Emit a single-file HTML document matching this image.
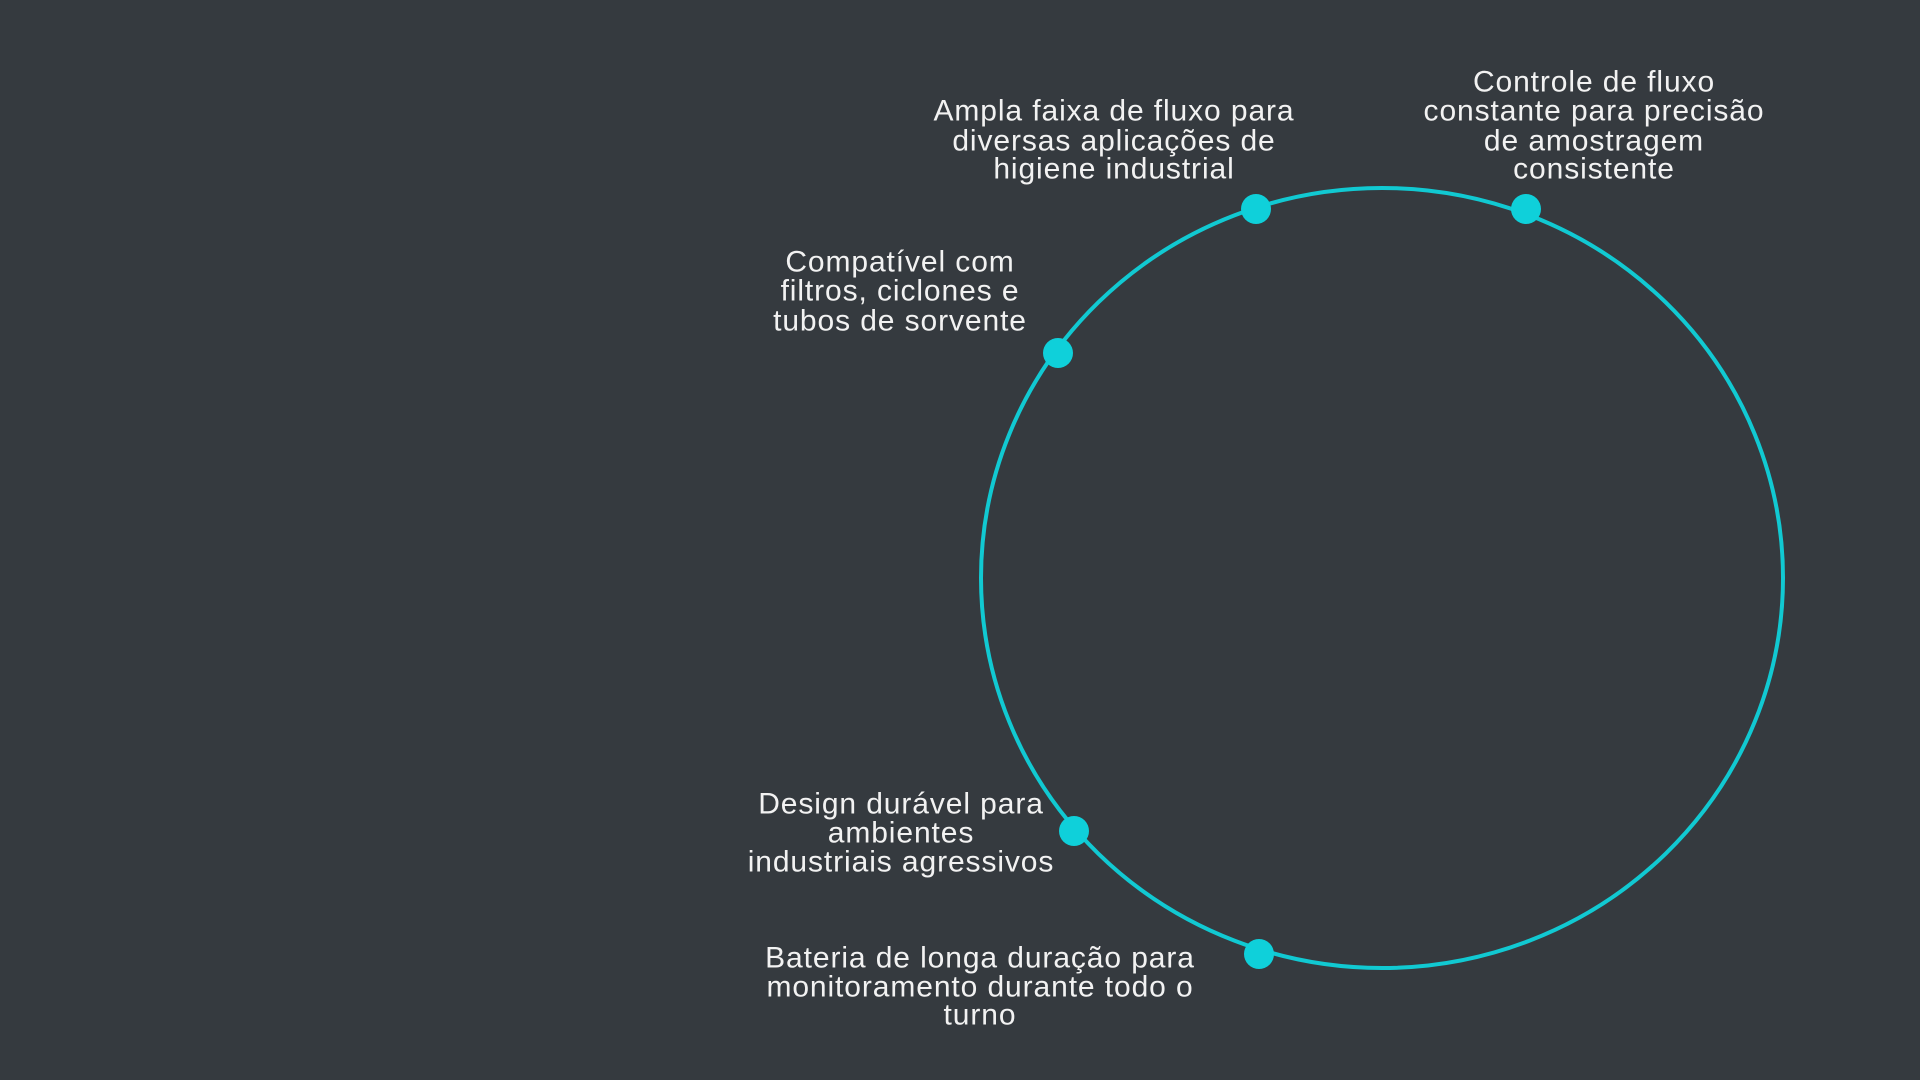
<!DOCTYPE html>
<html><head><meta charset="utf-8"><style>
html,body{margin:0;padding:0;background:#353a3f;}
svg{display:block;}
text{font-family:"Liberation Sans",sans-serif;font-size:30px;letter-spacing:0.9px;fill:#f2f2f2;text-anchor:middle;dominant-baseline:central;}
</style></head><body>
<svg width="1920" height="1080" viewBox="0 0 1920 1080">
<rect width="1920" height="1080" fill="#353a3f"/>
<ellipse cx="1382" cy="578" rx="401" ry="390" fill="none" stroke="#11c9d2" stroke-width="4"/>
<g fill="#0fd0da">
<circle cx="1256" cy="209" r="15"/>
<circle cx="1526" cy="209" r="15"/>
<circle cx="1058" cy="353" r="15"/>
<circle cx="1074" cy="831" r="15"/>
<circle cx="1259" cy="954" r="15"/>
</g>
<text x="1114" y="111">Ampla faixa de fluxo para</text>
<text x="1114" y="141">diversas aplicações de</text>
<text x="1114" y="169">higiene industrial</text>
<text x="1594" y="82">Controle de fluxo</text>
<text x="1594" y="111">constante para precisão</text>
<text x="1594" y="141">de amostragem</text>
<text x="1594" y="169">consistente</text>
<text x="900" y="262">Compatível com</text>
<text x="900" y="291">filtros, ciclones e</text>
<text x="900" y="321">tubos de sorvente</text>
<text x="901" y="804">Design durável para</text>
<text x="901" y="833">ambientes</text>
<text x="901" y="862">industriais agressivos</text>
<text x="980" y="958">Bateria de longa duração para</text>
<text x="980" y="987">monitoramento durante todo o</text>
<text x="980" y="1015">turno</text>
</svg>
</body></html>
